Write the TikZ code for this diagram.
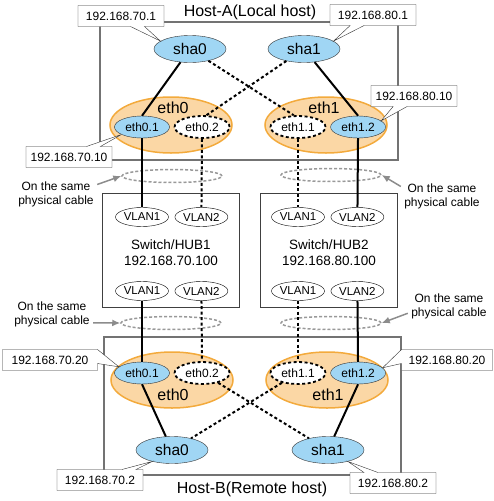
\documentclass[tikz,border=0pt]{standalone}
\usepackage{fontspec}
\setmainfont{Liberation Sans}
\usepackage{tikz}
\usetikzlibrary{positioning, arrows.meta, shapes.geometric, shapes.callouts}

\definecolor{shablue}{RGB}{160,214,244}
\definecolor{nicfill}{RGB}{251,215,165}
\definecolor{nicline}{RGB}{243,170,60}

\begin{document}
\begin{tikzpicture}[x=1pt, y=-1pt]
	% Define styles
	\tikzset{
		host/.style={rectangle, draw=black!55, line width=1.5pt, minimum width=298pt, minimum height=138pt},
		hub/.style={rectangle, draw=black!75, line width=1pt, minimum width=137pt, minimum height=114pt},
		nic/.style={ellipse, draw=nicline, line width=1.5pt, fill=nicfill, minimum width=122pt, minimum height=56pt},
		sha/.style={ellipse, draw=black!80, fill=shablue, minimum width=72pt, minimum height=27pt, inner sep=0pt, font=\fontsize{15.5}{17}\selectfont},
		vif/.style={ellipse, draw=black!80, fill=shablue, minimum width=55pt, minimum height=22pt, inner sep=0pt, font=\fontsize{12}{14}\selectfont},
		vifoff/.style={vif, fill=white, draw=black, line width=1.8pt, dash pattern=on 3pt off 2.5pt},
		vlan/.style={ellipse, draw, minimum width=53pt, minimum height=19pt, inner sep=0pt, font=\fontsize{11.5}{13}\selectfont},
		cable/.style={ellipse, draw=black!40, line width=1.5pt, dash pattern=on 3pt off 2pt, minimum width=100pt, minimum height=13pt},
		ip/.style={rectangle callout, draw=black!80, fill=white, minimum width=86pt, minimum height=21pt, inner sep=0pt, callout pointer width=14pt, font=\fontsize{12}{14}\selectfont},
		note/.style={align=center, font=\fontsize{12}{14}\selectfont},
		title/.style={font=\fontsize{16}{18}\selectfont},
		link/.style={draw, line width=2pt},
		vlink/.style={draw, line width=2pt, dash pattern=on 3pt off 2.5pt},
		pointer/.style={draw=black!45, line width=1.5pt, -{Latex[length=8pt, width=7pt]}}
	}
	\useasboundingbox (0,0) rectangle (494,501);
	
	% Host-A
	\node[host] (hostA) at (249,91) {};
	\node[title] (titleA) at (250,12) {Host-A(Local host)};
	\node[nic] (nicA0) at (171,125) {};
	\node[nic] (nicA1) at (326,125) {};
	\node[title] (lblA0) at (173,108) {eth0};
	\node[title] (lblA1) at (324,108) {eth1};
	\node[vif] (a01) at (142,127) {eth0.1};
	\node[vifoff, right=4pt of a01] (a02) {eth0.2};
	\node[vifoff] (a11) at (298,127) {eth1.1};
	\node[vif, right=4pt of a11] (a12) {eth1.2};
	\node[sha] (shaA0) at (190,49) {sha0};
	\node[sha] (shaA1) at (304,49) {sha1};
	
	% Switches
	\node[hub] (hub1) at (171,250) {};
	\node[note, font=\fontsize{13.5}{16}\selectfont] (hub1lbl) at (171,253) {Switch/HUB1\\192.168.70.100};
	\node[vlan] (h1u1) at (142,217) {VLAN1};
	\node[vlan, right=6pt of h1u1] (h1u2) {VLAN2};
	\node[vlan] (h1d1) at (142,291) {VLAN1};
	\node[vlan, right=6pt of h1d1] (h1d2) {VLAN2};
	
	\node[hub] (hub2) at (329,250) {};
	\node[note, font=\fontsize{13.5}{16}\selectfont] (hub2lbl) at (329,253) {Switch/HUB2\\192.168.80.100};
	\node[vlan] (h2u1) at (298,217) {VLAN1};
	\node[vlan, right=6pt of h2u1] (h2u2) {VLAN2};
	\node[vlan] (h2d1) at (298,291) {VLAN1};
	\node[vlan, right=6pt of h2d1] (h2d2) {VLAN2};
	
	% Host-B
	\node[host, minimum width=297pt] (hostB) at (252.5,406) {};
	\node[title] (titleB) at (252,489) {Host-B(Remote host)};
	\node[nic] (nicB0) at (172,380) {};
	\node[nic] (nicB1) at (327,380) {};
	\node[title] (lblB0) at (173,395) {eth0};
	\node[title] (lblB1) at (328,395) {eth1};
	\node[vif] (b01) at (142,373) {eth0.1};
	\node[vifoff, right=4pt of b01] (b02) {eth0.2};
	\node[vifoff] (b11) at (298,373) {eth1.1};
	\node[vif, right=4pt of b11] (b12) {eth1.2};
	\node[sha] (shaB0) at (172,450) {sha0};
	\node[sha] (shaB1) at (328,450) {sha1};
	
	% Cables
	\node[cable] (cabA0) at (172,176) {};
	\node[cable] (cabA1) at (331,175) {};
	\node[cable] (cabB0) at (171,323) {};
	\node[cable] (cabB1) at (331,323) {};
	\node[note] (noteA0) at (56,194) {On the same\\physical cable};
	\node[note] (noteA1) at (442,196) {On the same\\physical cable};
	\node[note] (noteB0) at (52,314) {On the same\\physical cable};
	\node[note] (noteB1) at (449,306) {On the same\\physical cable};
	
	% Links
	\draw[link] (shaA0) -- (a01.north);
	\draw[vlink] (shaA0) -- (a11.110);
	\draw[vlink] (shaA1) -- (a02.70);
	\draw[link] (shaA1) -- (a12.north);
	
	\draw[link] (a01) -- (h1u1);
	\draw[vlink] (a02) -- (h1u2);
	\draw[vlink] (a11) -- (h2u1);
	\draw[link] (a12) -- (h2u2);
	\draw[link] (h1d1) -- (b01);
	\draw[vlink] (h1d2) -- (b02);
	\draw[vlink] (h2d1) -- (b11);
	\draw[link] (h2d2) -- (b12);
	
	\draw[link] (b01.south) -- (shaB0);
	\draw[vlink] (b11) -- (shaB0);
	\draw[vlink] (b02) -- (shaB1);
	\draw[link] (b12.south) -- (shaB1);
	
	\draw[pointer] (noteA0.13) -- (cabA0.west);
	\draw[pointer] (noteB0.-12) -- (cabB0.west);
	\draw[pointer] (noteA1.167) -- (cabA1.east);
	\draw[pointer] (noteB1.190) -- (cabB1.east);
	
	% Addresses
	\node[ip, callout absolute pointer={(shaA0.165)}] (ipA0) at (121,16) {192.168.70.1};
	\node[ip, callout absolute pointer={(shaA1.15)}] (ipA1) at (373,15) {192.168.80.1};
	\node[ip, callout absolute pointer={(a01.200)}] (ipA01) at (69,157) {192.168.70.10};
	\node[ip, callout absolute pointer={(a12.15)}] (ipA12) at (414,96) {192.168.80.10};
	\node[ip, minimum width=95pt, callout absolute pointer={(b01.165)}] (ipB01) at (50,360) {192.168.70.20};
	\node[ip, minimum width=91pt, callout absolute pointer={(b12.12)}] (ipB12) at (447,360) {192.168.80.20};
	\node[ip, callout absolute pointer={(shaB0.210)}] (ipB0) at (100,480) {192.168.70.2};
	\node[ip, callout absolute pointer={(shaB1.-30)}] (ipB1) at (393,483) {192.168.80.2};
\end{tikzpicture}
\end{document}
